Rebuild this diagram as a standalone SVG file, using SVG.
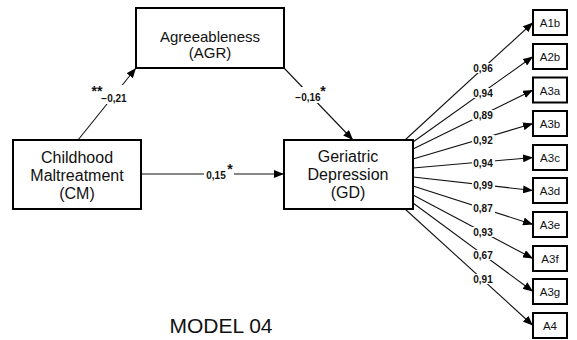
<svg xmlns="http://www.w3.org/2000/svg" width="577" height="340" viewBox="0 0 577 340">
<style>
.box{fill:#fff;stroke:#000;stroke-width:2}
.nt{font-family:"Liberation Sans","Open Sans",sans-serif;font-size:16px;text-anchor:middle;fill:#111}
.at{font-family:"Liberation Sans","Open Sans",sans-serif;font-size:15px;text-anchor:middle;fill:#111}
.it{font-family:"Liberation Sans","Open Sans",sans-serif;font-size:11.5px;text-anchor:middle;fill:#111}
.lbl{font-family:"Liberation Sans","Open Sans",sans-serif;font-size:10px;font-weight:bold;text-anchor:middle;fill:#111}
.star{font-family:"Liberation Sans",sans-serif;font-size:14px;font-weight:bold;text-anchor:middle;fill:#111}
.ln{stroke:#111;stroke-width:1.1;fill:none;marker-end:url(#ah)}
.gap{fill:#fff}
.title{font-family:"Liberation Sans","Open Sans",sans-serif;font-size:21px;text-anchor:middle;fill:#111}
</style>
<defs>
<marker id="ah" markerUnits="userSpaceOnUse" markerWidth="10" markerHeight="8" refX="10" refY="4" orient="auto">
<path d="M0,0 L10,4 L0,8 z" fill="#000"/>
</marker>
</defs>
<g id="connectors">
<line class="ln" x1="78" y1="140" x2="136" y2="68"/>
<line class="ln" x1="284" y1="68" x2="353" y2="140"/>
<line class="ln" x1="141" y1="174" x2="284" y2="174"/>
<line class="ln" x1="405" y1="140" x2="533" y2="22.5"/>
<line class="ln" x1="413" y1="142" x2="533" y2="56.5"/>
<line class="ln" x1="413" y1="149" x2="533" y2="90"/>
<line class="ln" x1="413" y1="159" x2="533" y2="123.5"/>
<line class="ln" x1="413" y1="168" x2="533" y2="157.5"/>
<line class="ln" x1="413" y1="177" x2="533" y2="190.5"/>
<line class="ln" x1="413" y1="186" x2="533" y2="224.5"/>
<line class="ln" x1="413" y1="195" x2="533" y2="258.5"/>
<line class="ln" x1="413" y1="203" x2="533" y2="291.5"/>
<line class="ln" x1="405" y1="209" x2="533" y2="325.5"/>
<rect class="gap" x="100" y="85" width="28" height="19"/>
<rect class="gap" x="296" y="87" width="24" height="16"/>
<rect class="gap" x="204" y="168" width="30" height="12"/>
<rect class="gap" x="472" y="63" width="23" height="10"/>
<rect class="gap" x="472" y="88" width="23" height="10"/>
<rect class="gap" x="472" y="110" width="23" height="10"/>
<rect class="gap" x="472" y="135" width="23" height="10"/>
<rect class="gap" x="472" y="158" width="23" height="10"/>
<rect class="gap" x="472" y="180" width="23" height="10"/>
<rect class="gap" x="472" y="203" width="23" height="10"/>
<rect class="gap" x="472" y="227" width="23" height="10"/>
<rect class="gap" x="472" y="250" width="23" height="10"/>
<rect class="gap" x="472" y="274" width="23" height="10"/>
<text class="star" x="97" y="96">**</text>
<text class="lbl" x="114" y="101.5">−0,21</text>
<text class="lbl" x="308" y="100.5">−0,16</text>
<text class="star" x="323" y="96">*</text>
<text class="lbl" x="216" y="179">0,15</text>
<text class="star" x="230" y="174">*</text>
<text class="lbl" x="483" y="71.5">0,96</text>
<text class="lbl" x="483" y="96.5">0,94</text>
<text class="lbl" x="483" y="118.5">0,89</text>
<text class="lbl" x="483" y="143.5">0,92</text>
<text class="lbl" x="483" y="166.5">0,94</text>
<text class="lbl" x="483" y="188.5">0,99</text>
<text class="lbl" x="483" y="211.5">0,87</text>
<text class="lbl" x="483" y="235.5">0,93</text>
<text class="lbl" x="483" y="258.5">0,67</text>
<text class="lbl" x="483" y="282.5">0,91</text>
</g>
<g id="AGR">
<rect class="box" x="136" y="8" width="148" height="60"/>
<text class="at" x="210" y="42">Agreeableness</text>
<text class="at" x="210" y="58">(AGR)</text>
</g>
<g id="CM">
<rect class="box" x="13" y="140" width="128" height="69"/>
<text class="nt" x="77" y="162.5">Childhood</text>
<text class="nt" x="77" y="180.5">Maltreatment</text>
<text class="nt" x="77" y="198.5">(CM)</text>
</g>
<g id="GD">
<rect class="box" x="284" y="140" width="129" height="69"/>
<text class="nt" x="348" y="162">Geriatric</text>
<text class="nt" x="348" y="179.5">Depression</text>
<text class="nt" x="348" y="198">(GD)</text>
</g>
<g id="A1b"><rect class="box" x="533" y="10" width="34" height="25"/><text class="it" x="550" y="27">A1b</text></g>
<g id="A2b"><rect class="box" x="533" y="44" width="34" height="25"/><text class="it" x="550" y="61">A2b</text></g>
<g id="A3a"><rect class="box" x="533" y="77.5" width="34" height="25"/><text class="it" x="550" y="94.5">A3a</text></g>
<g id="A3b"><rect class="box" x="533" y="111" width="34" height="25"/><text class="it" x="550" y="128">A3b</text></g>
<g id="A3c"><rect class="box" x="533" y="145" width="34" height="25"/><text class="it" x="550" y="162">A3c</text></g>
<g id="A3d"><rect class="box" x="533" y="178" width="34" height="25"/><text class="it" x="550" y="195">A3d</text></g>
<g id="A3e"><rect class="box" x="533" y="212" width="34" height="25"/><text class="it" x="550" y="229">A3e</text></g>
<g id="A3f"><rect class="box" x="533" y="246" width="34" height="25"/><text class="it" x="550" y="263">A3f</text></g>
<g id="A3g"><rect class="box" x="533" y="279" width="34" height="25"/><text class="it" x="550" y="296">A3g</text></g>
<g id="A4"><rect class="box" x="533" y="313" width="34" height="25"/><text class="it" x="550" y="330">A4</text></g>
<text class="title" x="221" y="333">MODEL 04</text>
</svg>
